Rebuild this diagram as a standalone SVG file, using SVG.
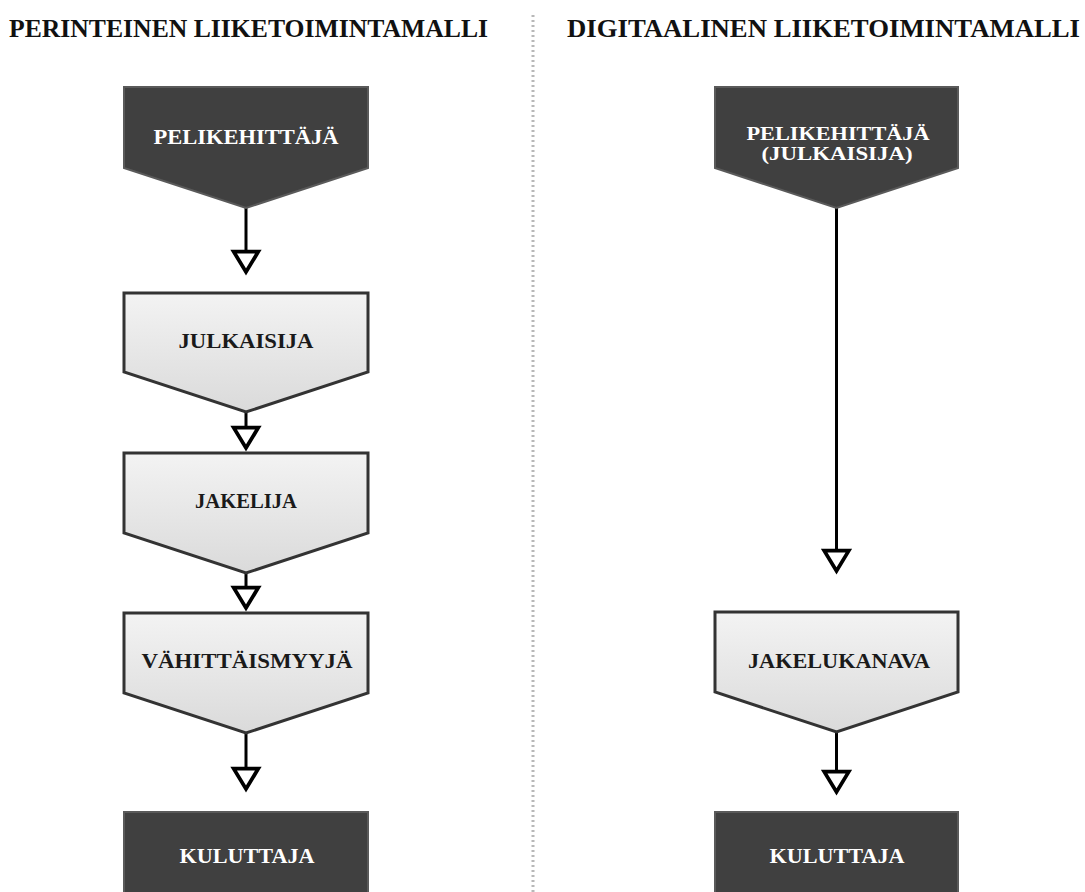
<svg xmlns="http://www.w3.org/2000/svg" width="1085" height="892" viewBox="0 0 1085 892">
  <style>
    .title { font-family: "Liberation Serif", "Times New Roman", serif; font-weight: bold; font-size: 25px; fill: #111; }
    .lbl { font-family: "Liberation Serif", "Times New Roman", serif; font-weight: bold; font-size: 22px; text-anchor: middle; }
    .lbl.small { font-size: 18px; }
    .dark { fill: #404040; stroke: #5a5a5a; stroke-width: 2; }
    .light { fill: url(#lightGrad); stroke: #333; stroke-width: 3; }
    .dark-t { fill: #ffffff; }
    .light-t { fill: #1a1a1a; }
    .flow { stroke: #000; stroke-width: 3; fill: none; marker-end: url(#hollow); }
    .divider { stroke: #b8b8b8; stroke-width: 3; stroke-dasharray: 2 3; }
  </style>
  <defs>
    <linearGradient id="lightGrad" x1="0" y1="0" x2="0" y2="1">
      <stop offset="0" stop-color="#f3f3f3"/>
      <stop offset="1" stop-color="#dadada"/>
    </linearGradient>
    <marker id="hollow" markerUnits="userSpaceOnUse" markerWidth="30" markerHeight="30" refX="19" refY="0" orient="auto" overflow="visible" viewBox="-2 -14 24 28">
      <path d="M0,-11.5 L19,0 L0,11.5 Z" fill="#fff" stroke="#000" stroke-width="3.5" stroke-linejoin="miter"/>
    </marker>
  </defs>

  <rect width="1085" height="892" fill="#fff"/>

  <!-- column headings -->
  <text class="title" x="9" y="37" textLength="479" lengthAdjust="spacingAndGlyphs">PERINTEINEN LIIKETOIMINTAMALLI</text>
  <text class="title" x="567" y="37" textLength="513" lengthAdjust="spacingAndGlyphs">DIGITAALINEN LIIKETOIMINTAMALLI</text>
  <line class="divider" x1="533" y1="15" x2="533" y2="892"/>

  <!-- connectors -->
  <g id="connectors">
    <line class="flow" x1="246" y1="208" x2="246" y2="272"/>
    <line class="flow" x1="246" y1="412" x2="246" y2="448"/>
    <line class="flow" x1="246" y1="573" x2="246" y2="608"/>
    <line class="flow" x1="246" y1="733" x2="246" y2="789"/>
    <line class="flow" x1="836.5" y1="208" x2="836.5" y2="571"/>
    <line class="flow" x1="836.5" y1="732" x2="836.5" y2="792"/>
  </g>

  <!-- traditional model -->
  <g id="n-pelikehittaja">
    <path class="dark" d="M124,87 H368 V168 L246,208 L124,168 Z"/>
    <text class="lbl dark-t" x="246" y="144" textLength="185" lengthAdjust="spacingAndGlyphs">PELIKEHITTÄJÄ</text>
  </g>
  <g id="n-julkaisija">
    <path class="light" d="M124,293 H368 V372 L246,412 L124,372 Z"/>
    <text class="lbl light-t" x="246" y="348" textLength="135" lengthAdjust="spacingAndGlyphs">JULKAISIJA</text>
  </g>
  <g id="n-jakelija">
    <path class="light" d="M124,453 H368 V533 L246,573 L124,533 Z"/>
    <text class="lbl light-t" x="246" y="508" textLength="102" lengthAdjust="spacingAndGlyphs">JAKELIJA</text>
  </g>
  <g id="n-vahittaismyyja">
    <path class="light" d="M124,613 H368 V693 L246,733 L124,693 Z"/>
    <text class="lbl light-t" x="247" y="668" textLength="211" lengthAdjust="spacingAndGlyphs">VÄHITTÄISMYYJÄ</text>
  </g>
  <g id="n-kuluttaja-1">
    <rect class="dark" x="124" y="812" width="244" height="100"/>
    <text class="lbl dark-t" x="247" y="863" textLength="135" lengthAdjust="spacingAndGlyphs">KULUTTAJA</text>
  </g>

  <!-- digital model -->
  <g id="n-pelikehittaja-julkaisija">
    <path class="dark" d="M715,87 H958 V168 L836.5,208 L715,168 Z"/>
    <text class="lbl small dark-t" x="838" y="140" textLength="183" lengthAdjust="spacingAndGlyphs">PELIKEHITTÄJÄ</text>
    <text class="lbl small dark-t" x="837" y="160" textLength="151" lengthAdjust="spacingAndGlyphs">(JULKAISIJA)</text>
  </g>
  <g id="n-jakelukanava">
    <path class="light" d="M715,612 H958 V692 L836.5,732 L715,692 Z"/>
    <text class="lbl light-t" x="839" y="668" textLength="182" lengthAdjust="spacingAndGlyphs">JAKELUKANAVA</text>
  </g>
  <g id="n-kuluttaja-2">
    <rect class="dark" x="715" y="812" width="243" height="100"/>
    <text class="lbl dark-t" x="837" y="863" textLength="135" lengthAdjust="spacingAndGlyphs">KULUTTAJA</text>
  </g>
</svg>
